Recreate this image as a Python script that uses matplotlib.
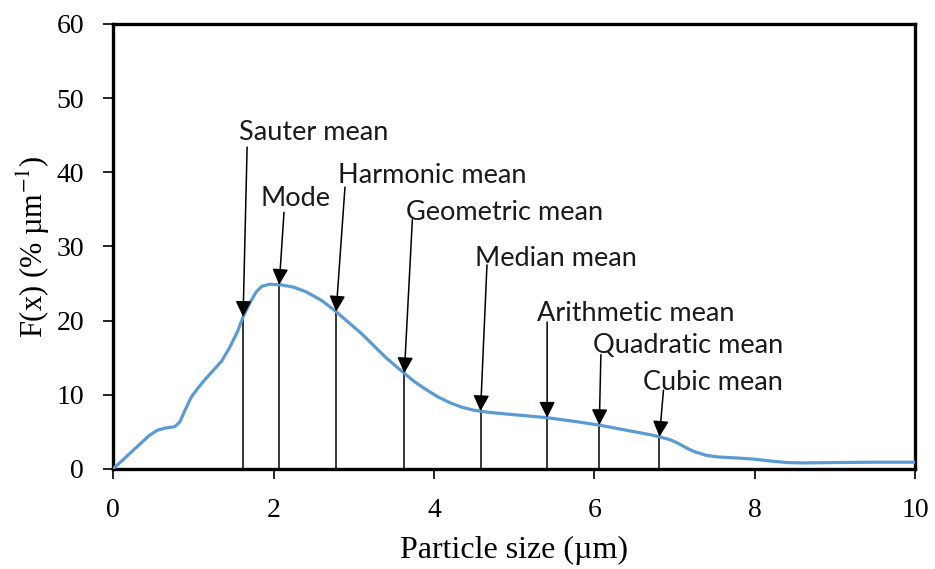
import numpy as np
import matplotlib
matplotlib.use("Agg")
import matplotlib.pyplot as plt

plt.rcParams['font.family'] = ['Liberation Serif', 'DejaVu Serif']
plt.rcParams['mathtext.fontset'] = 'stix'

# size distribution curve
size_um = [0, 0.15, 0.3, 0.45, 0.55, 0.65, 0.77, 0.83, 0.9, 0.97, 1.05, 1.15,
           1.25, 1.35, 1.45, 1.55, 1.62, 1.7, 1.78, 1.85, 1.95, 2.1, 2.25, 2.4,
           2.6, 2.78, 2.95, 3.1, 3.25, 3.4, 3.55, 3.63, 3.75, 3.9, 4.05, 4.2,
           4.35, 4.5, 4.7, 5.0, 5.41, 5.75, 6.06, 6.45, 6.7, 6.82, 6.95, 7.05,
           7.15, 7.25, 7.4, 7.55, 7.8, 8.0, 8.2, 8.4, 8.6, 9.0, 9.5, 10]
fx = [0, 1.5, 3.0, 4.5, 5.2, 5.5, 5.7, 6.3, 8.0, 9.6, 10.8, 12.1,
      13.3, 14.5, 16.3, 18.5, 20.5, 22.3, 23.8, 24.6, 24.9, 24.8, 24.5, 23.9,
      22.7, 21.2, 19.6, 18.2, 16.6, 15.0, 13.6, 12.9, 11.8, 10.7, 9.7, 8.9,
      8.3, 7.9, 7.6, 7.3, 6.9, 6.4, 5.9, 5.1, 4.6, 4.3, 3.9, 3.4,
      2.8, 2.3, 1.8, 1.6, 1.45, 1.3, 1.05, 0.85, 0.8, 0.85, 0.9, 0.9]

# characteristic diameters
mean_names = ['Sauter mean', 'Mode', 'Harmonic mean', 'Geometric mean',
              'Median mean', 'Arithmetic mean', 'Quadratic mean', 'Cubic mean']
mean_x = [1.62, 2.07, 2.78, 3.63, 4.58, 5.41, 6.06, 6.81]

# label placement (text centre) and start of the pointer line
label_xy = [(2.5, 45.3), (2.27, 36.5), (3.98, 39.5), (4.88, 34.6),
            (5.52, 28.3), (6.51, 21.0), (7.17, 16.6), (7.48, 11.6)]
line_top = [(1.67, 43.4), (2.13, 34.6), (2.89, 38.0), (3.73, 33.6),
            (4.66, 27.5), (5.41, 19.8), (6.08, 15.4), (6.86, 10.6)]

fig = plt.figure(figsize=(9.35, 5.69), dpi=100)
ax = fig.add_axes([0.121, 0.176, 0.858, 0.782])

ax.plot(size_um, fx, color='#5B9BD5', lw=2.3, zorder=3,
        solid_joinstyle='round')

for name, mx, (lx, ly), (sx, sy) in zip(mean_names, mean_x, label_xy, line_top):
    tip = np.interp(mx, size_um, fx)
    ax.vlines(mx, 0, tip, color='black', lw=1.1, zorder=2)
    ax.annotate('', xy=(mx, tip), xytext=(sx, sy),
                arrowprops=dict(arrowstyle='-|>', color='black', lw=1.1,
                                mutation_scale=24, shrinkA=0, shrinkB=0),
                zorder=4)
    ax.text(lx, ly, name, ha='center', va='center', fontsize=19.5,
            family=['Lato', 'DejaVu Sans'], color='#1a1a1a')

ax.set_xlim(0, 10)
ax.set_ylim(0, 60)
ax.set_xticks(np.arange(0, 11, 2))
ax.set_yticks(np.arange(0, 61, 10))
ax.tick_params(direction='out', length=7, width=1.2, labelsize=20)
ax.tick_params(axis='x', pad=14)
ax.tick_params(axis='y', pad=14)
for sp in ax.spines.values():
    sp.set_linewidth(2.4)

ax.set_xlabel('Particle size (µm)', fontsize=23, labelpad=9)
ax.set_ylabel('F(x) (% µm$^{-1}$)', fontsize=22, labelpad=3)

fig.savefig('out.png', dpi=100)
